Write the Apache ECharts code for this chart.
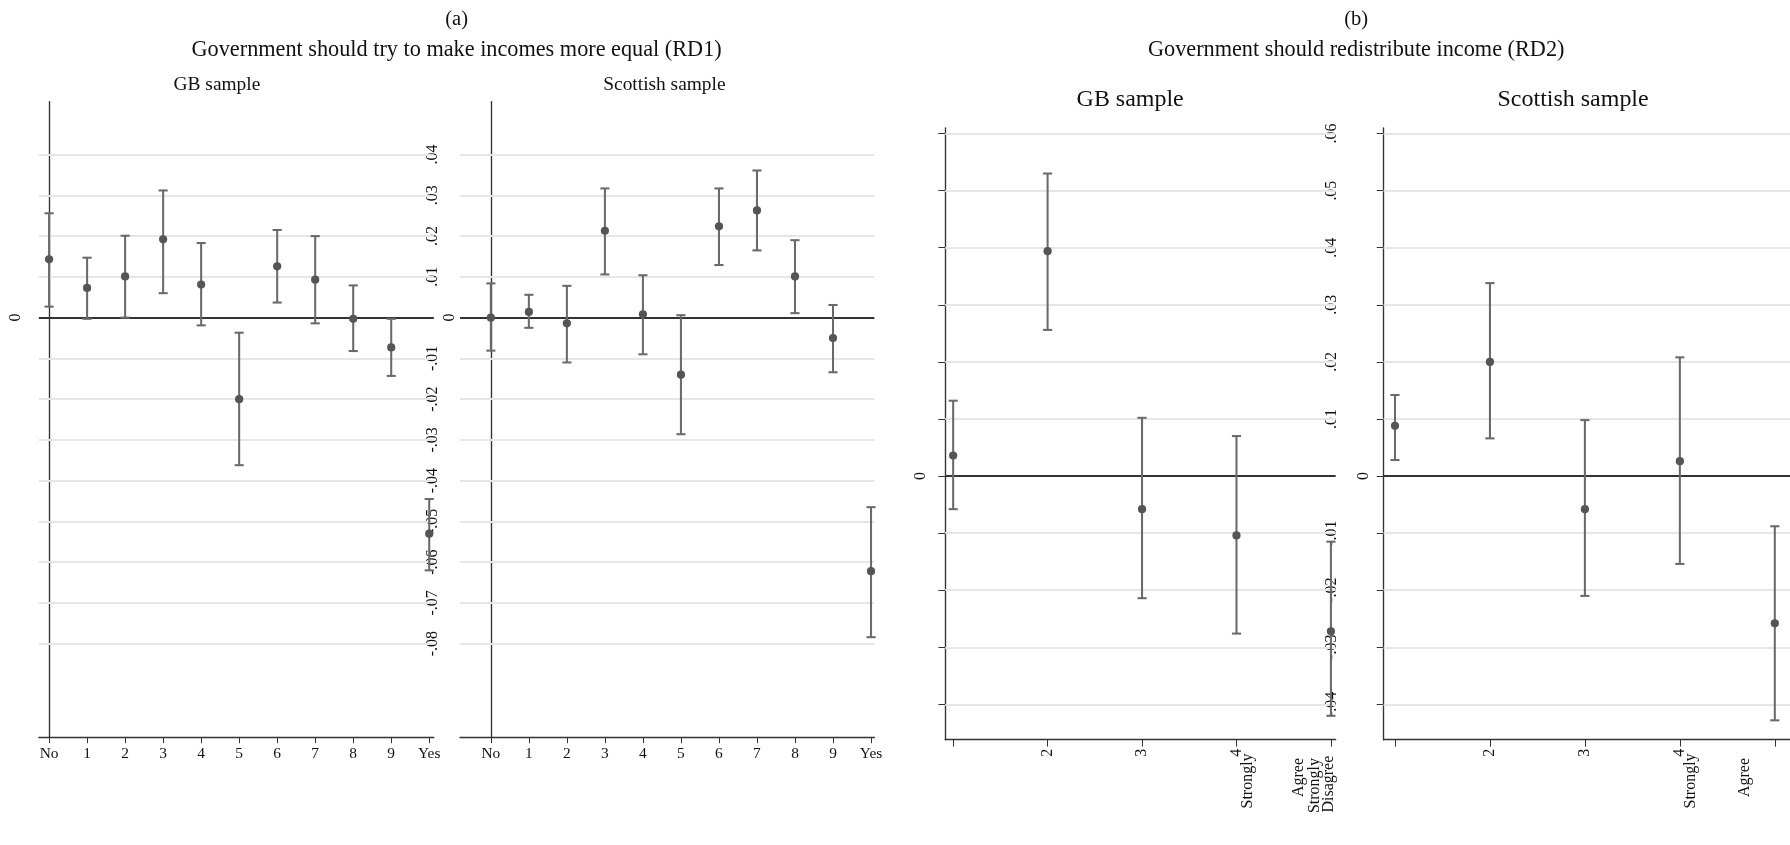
<!DOCTYPE html>
<html>
<head>
<meta charset="utf-8">
<script src="https://cdn.jsdelivr.net/npm/echarts@6/dist/echarts.min.js"></script>
<style>html,body{margin:0;background:#fff}#c{width:1790px;height:845px}</style>
</head>
<body>
<div id="c"></div>
<script>
// panel (a): RD1, 0..10 scale
const catsA = ["No", "1", "2", "3", "4", "5", "6", "7", "8", "9", "Yes"];
const gbA_est = [0.0143, 0.0073, 0.0101, 0.0192, 0.0081, -0.0200, 0.0126, 0.0093, -0.0003, -0.0073, -0.0530];
const gbA_lo  = [0.0027, -0.0003, 0.0000, 0.0060, -0.0019, -0.0362, 0.0037, -0.0014, -0.0082, -0.0143, -0.0620];
const gbA_hi  = [0.0256, 0.0147, 0.0201, 0.0312, 0.0183, -0.0037, 0.0215, 0.0200, 0.0079, -0.0003, -0.0445];
const scA_est = [0.0000, 0.0014, -0.0014, 0.0213, 0.0008, -0.0140, 0.0224, 0.0263, 0.0101, -0.0050, -0.0622];
const scA_lo  = [-0.0081, -0.0025, -0.0110, 0.0106, -0.0090, -0.0286, 0.0129, 0.0165, 0.0011, -0.0134, -0.0784];
const scA_hi  = [0.0084, 0.0056, 0.0078, 0.0317, 0.0104, 0.0006, 0.0317, 0.0361, 0.0190, 0.0031, -0.0465];
const ticksA = [0.04, 0.03, 0.02, 0.01, 0, -0.01, -0.02, -0.03, -0.04, -0.05, -0.06, -0.07, -0.08];

// panel (b): RD2, 1..5 scale
const catsB_gb = ["", "2", "3", "4", ""];
const catsB_sc = ["", "2", "3", "4", ""];
const gbB_est = [0.0036, 0.0394, -0.0058, -0.0104, -0.0272];
const gbB_lo  = [-0.0058, 0.0256, -0.0214, -0.0276, -0.0420];
const gbB_hi  = [0.0132, 0.0530, 0.0102, 0.0070, -0.0115];
const scB_est = [0.0088, 0.0200, -0.0058, 0.0026, -0.0258];
const scB_lo  = [0.0028, 0.0066, -0.0210, -0.0154, -0.0428];
const scB_hi  = [0.0142, 0.0338, 0.0098, 0.0208, -0.0088];
const ticksB = [0.06, 0.05, 0.04, 0.03, 0.02, 0.01, 0, -0.01, -0.02, -0.03, -0.04];

const K = 1790 / 1568;
const s = v => v * K;
const FONT = "Liberation Serif";

function fmtTick(v) {
  if (Math.abs(v) < 1e-9) return "0";
  const t = (Math.round(v * 100) / 100).toFixed(2);
  return t.replace("0.", ".");
}

function errData(est, lo, hi, x0) {
  return est.map((e, i) => [i + x0, e, lo[i], hi[i]]);
}

function renderErr(params, api) {
  const x = api.value(0);
  const p = api.coord([x, api.value(1)]);
  const pl = api.coord([x, api.value(2)]);
  const ph = api.coord([x, api.value(3)]);
  const cap = s(4);
  const st = { stroke: "#6a6a6a", lineWidth: s(1.8) };
  return {
    type: "group",
    children: [
      { type: "line", shape: { x1: p[0], y1: pl[1], x2: p[0], y2: ph[1] }, style: st },
      { type: "line", shape: { x1: p[0] - cap, y1: pl[1], x2: p[0] + cap, y2: pl[1] }, style: st },
      { type: "line", shape: { x1: p[0] - cap, y1: ph[1], x2: p[0] + cap, y2: ph[1] }, style: st },
      { type: "circle", shape: { cx: p[0], cy: p[1], r: s(3.6) }, style: { fill: "#555" } }
    ]
  };
}

const grids = [
  { left: s(34), top: s(89), width: s(346), height: s(557) },
  { left: s(403), top: s(89), width: s(363), height: s(557) },
  { left: s(828), top: s(112), width: s(342), height: s(536) },
  { left: s(1212), top: s(112), width: s(360), height: s(536) }
];

const axisLine = { lineStyle: { color: "#333", width: s(1.2) } };
const labelFont = { fontFamily: FONT, color: "#111" };

function xAxisA(grid, min, max) {
  const vals = catsA.map((_, i) => i);
  return {
    type: "value", gridIndex: grid, min, max,
    axisLine: { onZero: false, ...axisLine },
    splitLine: { show: false },
    axisTick: { customValues: vals, length: s(5), lineStyle: { color: "#333" } },
    axisLabel: { customValues: vals, formatter: v => catsA[Math.round(v)], fontSize: s(13.5), margin: s(8), ...labelFont }
  };
}
function xAxisB(grid, min, max, cats) {
  const vals = cats.map((_, i) => i + 1);
  return {
    type: "value", gridIndex: grid, min, max,
    axisLine: { onZero: false, ...axisLine },
    splitLine: { show: false },
    axisTick: { customValues: vals, length: s(6), lineStyle: { color: "#333" } },
    axisLabel: { customValues: vals, formatter: v => cats[Math.round(v) - 1], rotate: 90, fontSize: s(14), margin: s(8), ...labelFont }
  };
}
function yAxisMain(grid, min, max, ticks, showLabels, margin) {
  return {
    type: "value", gridIndex: grid, min, max, position: "left",
    axisLine: { show: true, ...axisLine },
    splitLine: { show: false },
    axisTick: { customValues: ticks, length: s(6), lineStyle: { color: "#333" } },
    axisLabel: {
      customValues: showLabels ? ticks.filter(v => Math.abs(v) > 1e-9) : [],
      formatter: fmtTick, rotate: 90, fontSize: s(14), margin: margin, ...labelFont
    }
  };
}
function yAxisZero(grid, min, max, margin) {
  return {
    type: "value", gridIndex: grid, min, max, position: "left",
    axisLine: { show: false }, axisTick: { show: false }, splitLine: { show: false },
    axisLabel: { customValues: [0], formatter: () => "0", rotate: 90, fontSize: s(14), margin: margin, ...labelFont }
  };
}

function errSeries(idx, data, ticks) {
  const lines = ticks.filter(v => Math.abs(v) > 1e-9).map(v => ({ yAxis: v, lineStyle: { color: "#e6e6e6", width: s(1.6), type: "solid" } }));
  lines.push({ yAxis: 0, lineStyle: { color: "#333", width: s(1.8), type: "solid" } });
  return {
    type: "custom", xAxisIndex: idx, yAxisIndex: idx, data, renderItem: renderErr, z: 5,
    encode: { x: 0, y: [1, 2, 3] },
    markLine: { silent: true, symbol: "none", label: { show: false }, data: lines, z: 1 }
  };
}

function txt(x, y, text, size) {
  return { type: "text", x: s(x), y: s(y), style: { text, font: `${s(size)}px "${FONT}"`, fill: "#111", align: "center", verticalAlign: "middle" } };
}
function vtxt(x, y, text, size) {
  return { type: "text", x: s(x), y: s(y), rotation: Math.PI / 2, style: { text, font: `${s(size)}px "${FONT}"`, fill: "#111", align: "right", verticalAlign: "middle" } };
}

const yA = [-0.103, 0.053];
const yB = [-0.0462, 0.061];

const option = {
  backgroundColor: "#fff",
  animation: false,
  grid: grids,
  xAxis: [
    xAxisA(0, -0.27, 10.12),
    xAxisA(1, -0.81, 10.09),
    xAxisB(2, 0.916, 5.05, catsB_gb),
    xAxisB(3, 0.88, 5.16, catsB_sc)
  ],
  yAxis: [
    yAxisMain(0, yA[0], yA[1], ticksA, false, 0),
    yAxisMain(1, yA[0], yA[1], ticksA, true, s(17)),
    yAxisMain(2, yB[0], yB[1], ticksB, false, 0),
    yAxisMain(3, yB[0], yB[1], ticksB, true, s(38)),
    yAxisZero(0, yA[0], yA[1], s(13)),
    yAxisZero(1, yA[0], yA[1], s(2)),
    yAxisZero(2, yB[0], yB[1], s(14)),
    yAxisZero(3, yB[0], yB[1], s(10))
  ],
  series: [
    errSeries(0, errData(gbA_est, gbA_lo, gbA_hi, 0), ticksA),
    errSeries(1, errData(scA_est, scA_lo, scA_hi, 0), ticksA),
    errSeries(2, errData(gbB_est, gbB_lo, gbB_hi, 1), ticksB),
    errSeries(3, errData(scB_est, scB_lo, scB_hi, 1), ticksB)
  ],
  graphic: [
    txt(400, 17, "(a)", 18),
    txt(400, 44, "Government should try to make incomes more equal (RD1)", 19.5),
    txt(190, 74, "GB sample", 17),
    txt(582, 74, "Scottish sample", 17),
    txt(1188, 17, "(b)", 18),
    txt(1188, 44, "Government should redistribute income (RD2)", 19.5),
    txt(990, 87, "GB sample", 21),
    txt(1378, 87, "Scottish sample", 21),
    vtxt(1093, 660, "Strongly", 14),
    vtxt(1138, 664, "Agree", 14),
    vtxt(1152, 664, "Strongly", 14),
    vtxt(1164, 662, "Disagree", 14),
    vtxt(1481, 660, "Strongly", 14),
    vtxt(1528, 664, "Agree", 14)
  ]
};

echarts.init(document.getElementById("c")).setOption(option);
</script>
</body>
</html>
